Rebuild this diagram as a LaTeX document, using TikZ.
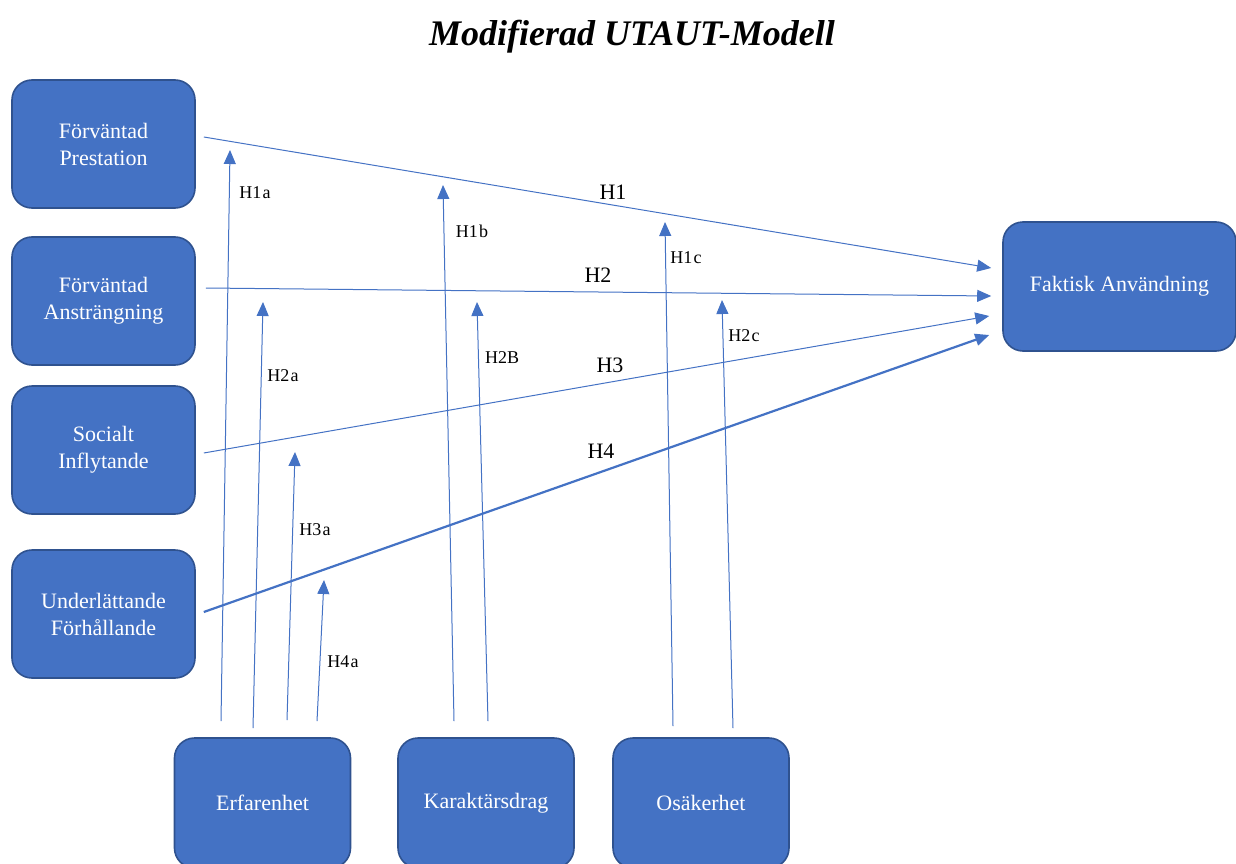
\documentclass[tikz,border=0pt]{standalone}
\usepackage{fontspec}
\setmainfont{Liberation Serif}
\usetikzlibrary{arrows.meta,calc}
\definecolor{boxfill}{HTML}{4472C4}
\definecolor{boxline}{HTML}{2F528F}
\definecolor{linkblue}{HTML}{4472C4}
\tikzset{
  construct/.style={draw=boxline, line width=1.6pt, fill=boxfill, rounded corners=20pt,
    text=white, align=center, font=\fontsize{22}{27}\selectfont, inner sep=0pt},
  leftbox/.style={construct, minimum width=183pt, minimum height=128pt},
  lowbox/.style={construct, minimum width=176pt, minimum height=130pt},
  link/.style={draw=linkblue, line width=1pt, -{Triangle[length=14pt,width=12pt]}},
  thicklink/.style={link, line width=2.2pt, -{Triangle[length=14pt,width=12pt]}},
  hyp/.style={font=\fontsize{18}{20}\selectfont, anchor=center, inner sep=0pt},
  mainhyp/.style={font=\fontsize{22}{24}\selectfont, anchor=center, inner sep=0pt}
}
\newcommand{\hlab}[2]{#1\kern1.2pt #2}
\begin{document}
\begin{tikzpicture}[x=1pt,y=-1pt]
\clip (0,0) rectangle (1236,864);
\useasboundingbox (0,0) rectangle (1236,864);

% title
\node[font=\fontsize{36}{40}\selectfont\bfseries\itshape] (title) at (632,37) {Modifierad UTAUT-Modell};

% determinants
\node[leftbox] (P) at (103.5,144) {Förväntad\\Prestation};
\node[leftbox] (A) at (103.5,301) {Förväntad\\Ansträngning};
\node[leftbox] (S) at (103.5,450) {Socialt\\Inflytande};
\node[leftbox] (U) at (103.5,614) {Underlättande\\Förhållande};

% outcome
\node[construct, minimum width=233pt, minimum height=129pt] (F) at (1119.5,286.5) {Faktisk Användning};

% moderators
\node[lowbox] (E) at (262.5,803) {Erfarenhet};
\node[lowbox] (K) at (486,803) {Karaktärsdrag};
\node[lowbox] (O) at (701,803) {Osäkerhet};

% direct effects
\draw[link] ($(P.east)+(8,-7)$) -- ($(F.west)+(-11,-18.5)$);
\draw[link] ($(A.east)+(10,-13)$) -- ($(F.west)+(-11,9.5)$);
\draw[link] ($(S.east)+(8,3)$) -- ($(F.west)+(-13,29.5)$);
\draw[thicklink] ($(U.east)+(8,-2)$) -- ($(F.west)+(-13,48.5)$);
\node[mainhyp] (h1) at (613,192) {H1};
\node[mainhyp] (h2) at (598,275) {H2};
\node[mainhyp] (h3) at (610,365) {H3};
\node[mainhyp] (h4) at (601,451) {H4};

% moderating effects: arrow tips
\coordinate (t1a) at (230,150);
\coordinate (t2a) at (263,302);
\coordinate (t3a) at (295,452);
\coordinate (t4a) at (324,580);
\coordinate (t1b) at (443,185);
\coordinate (t2b) at (477,302);
\coordinate (t1c) at (665,222);
\coordinate (t2c) at (722,300);

\draw[link] ($(E.north)+(-41.5,-16)$) -- (t1a);
\draw[link] ($(E.north)+(-9.5,-9)$) -- (t2a);
\draw[link] ($(E.north)+(24.5,-17)$) -- (t3a);
\draw[link] ($(E.north)+(54.5,-16)$) -- (t4a);
\draw[link] ($(K.north)+(-32,-16)$) -- (t1b);
\draw[link] ($(K.north)+(2,-16)$) -- (t2b);
\draw[link] ($(O.north)+(-28,-11)$) -- (t1c);
\draw[link] ($(O.north)+(32,-9)$) -- (t2c);

\node[hyp] (l1a) at (255,193) {\hlab{H1}{a}};
\node[hyp] (l2a) at (283,376) {\hlab{H2}{a}};
\node[hyp] (l3a) at (315,530) {\hlab{H3}{a}};
\node[hyp] (l4a) at (343,662) {\hlab{H4}{a}};
\node[hyp] (l1b) at (472,231) {\hlab{H1}{b}};
\node[hyp] (l2b) at (502,358) {H2B};
\node[hyp] (l1c) at (686,258) {\hlab{H1}{c}};
\node[hyp] (l2c) at (744,336) {\hlab{H2}{c}};
\end{tikzpicture}
\end{document}
